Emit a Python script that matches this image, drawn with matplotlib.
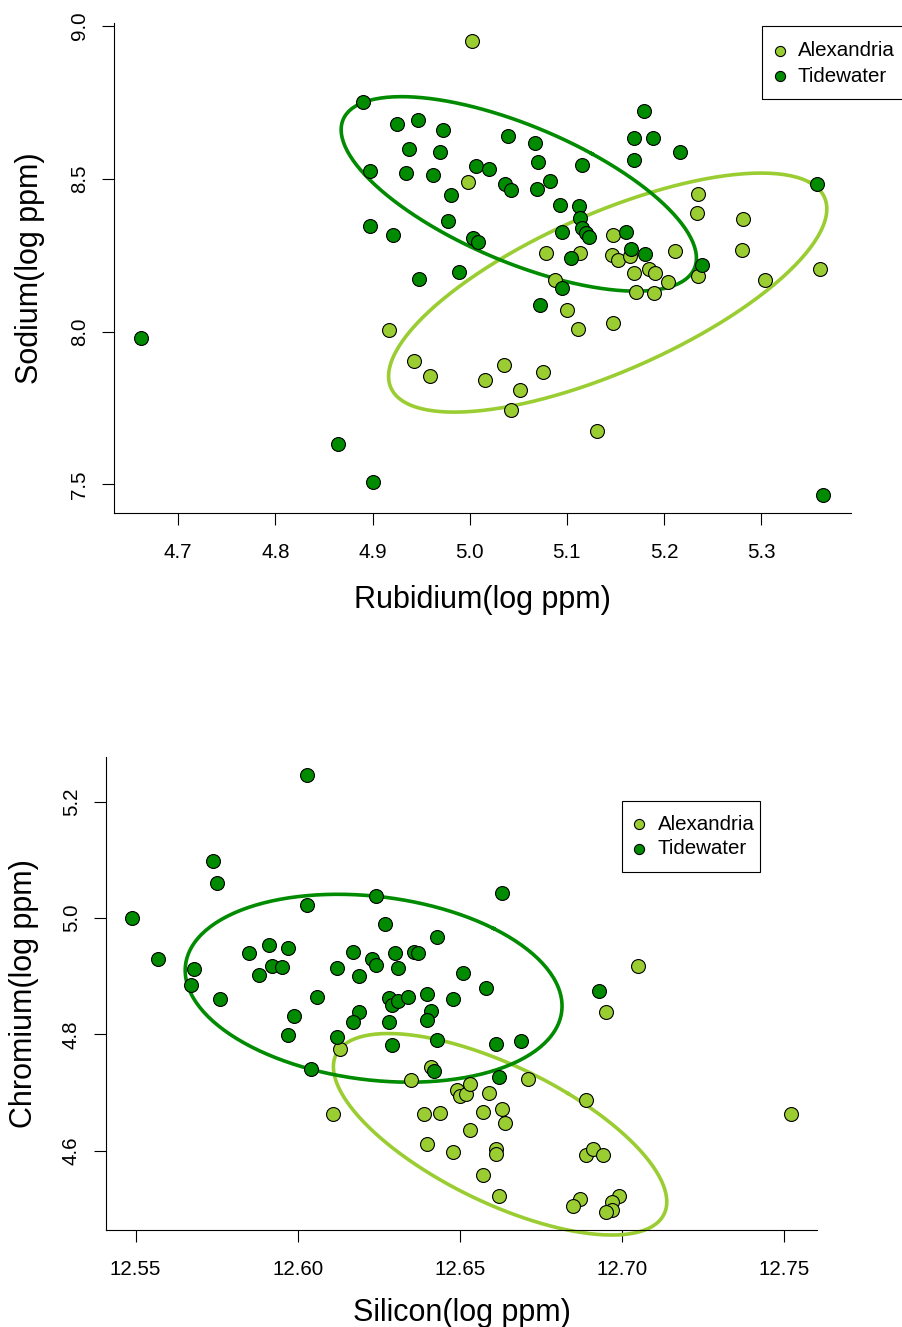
import numpy as np
import matplotlib
matplotlib.use('Agg')
from matplotlib import pyplot as plt
from matplotlib.lines import Line2D
from matplotlib.patches import Rectangle

plt.rcParams['font.family'] = ['Liberation Sans', 'DejaVu Sans']

# Top panel: Rubidium vs Sodium (log ppm)
alex_rb = [5.002, 4.998, 5.235, 5.234, 5.281, 5.280, 5.360, 5.147, 5.211, 5.078,
           5.114, 5.146, 5.153, 5.165, 5.169, 5.184, 5.191, 5.204, 5.235, 5.304,
           5.088, 5.171, 5.190, 5.100, 5.111, 5.147, 5.035, 5.016, 5.052, 5.075,
           5.042, 5.131, 4.917, 4.943, 4.959]
alex_na = [8.952, 8.490, 8.450, 8.388, 8.370, 8.269, 8.206, 8.317, 8.265, 8.259,
           8.258, 8.252, 8.234, 8.248, 8.191, 8.204, 8.192, 8.163, 8.183, 8.168,
           8.170, 8.131, 8.126, 8.072, 8.009, 8.030, 7.892, 7.843, 7.810, 7.867,
           7.745, 7.676, 8.006, 7.903, 7.856]
tide_rb = [4.890, 4.925, 4.947, 4.973, 4.938, 4.969, 4.897, 4.934, 4.962, 5.006,
           5.020, 4.981, 4.897, 4.921, 4.978, 5.003, 5.009, 4.989, 4.948, 5.179,
           5.169, 5.189, 5.216, 5.169, 5.039, 5.067, 5.070, 5.116, 5.036, 5.042,
           5.069, 5.083, 5.093, 5.112, 5.114, 5.116, 5.120, 5.123, 5.095, 5.104,
           5.161, 5.166, 5.180, 5.239, 5.357, 5.095, 5.072, 5.364, 4.662, 4.864,
           4.900]
tide_na = [8.751, 8.679, 8.693, 8.660, 8.599, 8.589, 8.527, 8.520, 8.513, 8.543,
           8.534, 8.448, 8.347, 8.315, 8.363, 8.306, 8.293, 8.194, 8.172, 8.722,
           8.634, 8.634, 8.589, 8.561, 8.642, 8.619, 8.556, 8.547, 8.484, 8.464,
           8.466, 8.494, 8.416, 8.412, 8.371, 8.338, 8.323, 8.309, 8.325, 8.240,
           8.326, 8.272, 8.254, 8.217, 8.485, 8.142, 8.086, 7.467, 7.981, 7.631,
           7.508]

# Bottom panel: Silicon vs Chromium (log ppm)
alex_si = [12.705, 12.695, 12.613, 12.635, 12.611, 12.641, 12.671, 12.649, 12.650, 12.652,
           12.653, 12.659, 12.689, 12.752, 12.639, 12.644, 12.657, 12.663, 12.664, 12.653,
           12.640, 12.648, 12.661, 12.661, 12.689, 12.691, 12.694, 12.657, 12.662, 12.687,
           12.685, 12.699, 12.697, 12.697, 12.695]
alex_cr = [4.918, 4.838, 4.775, 4.722, 4.663, 4.744, 4.724, 4.705, 4.695, 4.698,
           4.715, 4.700, 4.688, 4.663, 4.664, 4.665, 4.666, 4.671, 4.647, 4.636,
           4.612, 4.598, 4.603, 4.594, 4.593, 4.603, 4.592, 4.559, 4.522, 4.517,
           4.506, 4.523, 4.512, 4.498, 4.494]
tide_si = [12.603, 12.574, 12.575, 12.603, 12.624, 12.549, 12.627, 12.557, 12.585, 12.591,
           12.597, 12.568, 12.567, 12.588, 12.592, 12.595, 12.612, 12.617, 12.623, 12.624,
           12.630, 12.636, 12.637, 12.631, 12.619, 12.576, 12.606, 12.628, 12.629, 12.631,
           12.634, 12.599, 12.619, 12.617, 12.628, 12.597, 12.612, 12.629, 12.604, 12.663,
           12.643, 12.651, 12.658, 12.640, 12.648, 12.641, 12.640, 12.643, 12.661, 12.669,
           12.642, 12.662, 12.693]
tide_cr = [5.246, 5.098, 5.060, 5.023, 5.038, 5.000, 4.990, 4.929, 4.940, 4.954,
           4.948, 4.913, 4.885, 4.902, 4.917, 4.916, 4.914, 4.941, 4.929, 4.919,
           4.940, 4.942, 4.940, 4.914, 4.900, 4.861, 4.864, 4.862, 4.851, 4.857,
           4.864, 4.831, 4.839, 4.822, 4.821, 4.799, 4.796, 4.781, 4.740, 5.043,
           4.967, 4.906, 4.879, 4.869, 4.861, 4.840, 4.824, 4.790, 4.783, 4.788,
           4.737, 4.726, 4.875]

# Ellipses: centre x, centre y, half-width x, half-height y, correlation
top_alex_ellipse = [5.142, 8.128, 0.2255, 0.3912, 0.70]
top_tide_ellipse = [5.0505, 8.451, 0.1828, 0.3183, -0.66]
bot_alex_ellipse = [12.6624, 4.6284, 0.0514, 0.1731, -0.67]
bot_tide_ellipse = [12.6234, 4.8793, 0.0581, 0.1614, -0.19]

top_xticks = [4.7, 4.8, 4.9, 5.0, 5.1, 5.2, 5.3]
top_yticks = [7.5, 8.0, 8.5, 9.0]
bot_xticks = [12.55, 12.60, 12.65, 12.70, 12.75]
bot_yticks = [4.6, 4.8, 5.0, 5.2]

group_names = ['Alexandria', 'Tidewater']
ALEX_COLOR = '#9ACD32'
TIDE_COLOR = '#008B00'

BASE_FS = 14.75
LABEL_FS = 22
W, H = 902, 1327


def ellipse_curve(params, n=240):
  # same parametrisation as R's ellipse(): x = cx + a cos(t + d/2), y = cy + b cos(t - d/2)
  cx, cy, a, b, rho = params
  d = np.arccos(rho)
  t = np.linspace(0, 2 * np.pi, n)
  return cx + a * np.cos(t + d / 2), cy + b * np.cos(t - d / 2)


def r_limits(*arrays):
  allv = np.concatenate([np.asarray(a) for a in arrays])
  lo, hi = allv.min(), allv.max()
  pad = 0.04 * (hi - lo)
  return lo - pad, hi + pad


def draw_legend(fig, box, marker_x, rows_y, text_x):
  # box = (left, top, right, bottom) in pixels from top-left
  l, t, r, b = box
  fig.patches.append(Rectangle((l / W, 1 - b / H), (r - l) / W, (b - t) / H,
                               transform=fig.transFigure, fill=False,
                               edgecolor='black', linewidth=0.8))
  for name, c, y in zip(group_names, [ALEX_COLOR, TIDE_COLOR], rows_y):
    fig.lines.append(Line2D([marker_x / W], [1 - y / H], transform=fig.transFigure,
                            marker='o', ls='', markersize=7.3, markerfacecolor=c,
                            markeredgecolor='black', markeredgewidth=0.8))
    fig.text(text_x / W, 1 - y / H, name, fontsize=BASE_FS, ha='left', va='center')


def panel(fig, rect, ax_x, ax_y, tx, ty, ell_a, ell_t, xticks, yticks, xfmt,
          xlabel, ylabel, xlab_y, ylab_x):
  ax = fig.add_axes(rect)

  # ellipses first, points on top
  for params, c in [(ell_a, ALEX_COLOR), (ell_t, TIDE_COLOR)]:
    ex, ey = ellipse_curve(params)
    ax.plot(ex, ey, color=c, lw=2.6, clip_on=False, zorder=2)

  ax.scatter(ax_x, ax_y, s=100, c=ALEX_COLOR, edgecolors='black', linewidths=0.8, zorder=3)
  ax.scatter(tx, ty, s=100, c=TIDE_COLOR, edgecolors='black', linewidths=0.8, zorder=3)

  ax.set_xlim(*r_limits(ax_x, tx))
  ax.set_ylim(*r_limits(ax_y, ty))
  ax.set_xticks(xticks)
  ax.set_xticklabels([xfmt.format(v) for v in xticks])
  ax.set_yticks(yticks)
  ax.set_yticklabels(['{:.1f}'.format(v) for v in yticks], rotation=90, va='center')

  for side in ['top', 'right']:
    ax.spines[side].set_visible(False)
  for side in ['left', 'bottom']:
    ax.spines[side].set_linewidth(0.8)
  ax.tick_params(direction='out', length=8.6, width=0.8, labelsize=BASE_FS)
  ax.tick_params(axis='x', pad=13)
  ax.tick_params(axis='y', pad=9.5)

  ax.set_xlabel(xlabel, fontsize=LABEL_FS)
  ax.set_ylabel(ylabel, fontsize=LABEL_FS)
  ax.xaxis.set_label_coords(0.5, xlab_y)
  ax.xaxis.label.set_verticalalignment('center')
  ax.yaxis.set_label_coords(ylab_x, 0.5)
  ax.yaxis.label.set_verticalalignment('center')
  return ax


fig = plt.figure(figsize=(W / 100, H / 100), dpi=100)

panel(fig, [114 / W, 1 - 512.7 / H, 736.7 / W, 490 / H],
      alex_rb, alex_na, tide_rb, tide_na, top_alex_ellipse, top_tide_ellipse,
      top_xticks, top_yticks, '{:.1f}', 'Rubidium(log ppm)', 'Sodium(log ppm)',
      -0.178, -0.114)
draw_legend(fig, (761.7, 26, 912, 99.3), 780, [51, 76], 798)

panel(fig, [106 / W, 1 - 1230 / H, 711 / W, 472.7 / H],
      alex_si, alex_cr, tide_si, tide_cr, bot_alex_ellipse, bot_tide_ellipse,
      bot_xticks, bot_yticks, '{:.2f}', 'Silicon(log ppm)', 'Chromium(log ppm)',
      -0.175, -0.115)
draw_legend(fig, (621.7, 801, 759.7, 872.3), 639.3, [824.3, 848.7], 657.7)

fig.savefig('out.png', dpi=100)
